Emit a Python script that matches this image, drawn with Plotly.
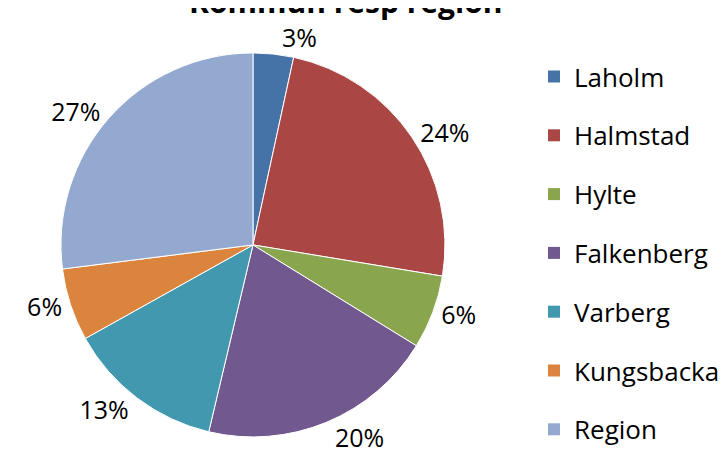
import plotly.graph_objects as go

categories = ["Laholm", "Halmstad", "Hylte", "Falkenberg", "Varberg", "Kungsbacka", "Region"]
values = [3.4, 24.2, 6.2, 19.9, 13.2, 6.1, 27.0]
colors = ["#4572A7", "#AA4643", "#89A54E", "#71588F", "#4198AF", "#DB843D", "#93A9CF"]
title_text = "Kommun resp region"

FONT = "'Open Sans', 'Noto Sans', sans-serif"

fig = go.Figure()
fig.add_trace(go.Pie(
    labels=categories,
    values=values,
    sort=False,
    direction="clockwise",
    rotation=0,
    marker=dict(colors=colors, line=dict(color="white", width=1)),
    textinfo="percent",
    texttemplate="%{percent:.0%}",
    textposition="outside",
    outsidetextfont=dict(family=FONT, size=25, color="black"),
    showlegend=False,
    hoverinfo="label+percent",
    domain=dict(x=[0.0565, 0.6165], y=[0.097, 0.9054]),
))

for name, col in zip(categories, colors):
    fig.add_trace(go.Scatter(
        x=[None], y=[None], mode="markers", name=name,
        legendgroup=name,
        marker=dict(symbol="square", size=18, color=col),
    ))

fig.add_annotation(
    text="<b>" + title_text + "</b>", xref="paper", yref="paper",
    x=0.463, y=1.0, xanchor="center", yanchor="middle", yshift=7,
    showarrow=False, font=dict(family=FONT, size=30, color="black"),
)

fig.update_layout(
    width=728, height=475,
    margin=dict(l=0, r=0, t=0, b=0, autoexpand=False),
    paper_bgcolor="white", plot_bgcolor="white",
    xaxis=dict(visible=False), yaxis=dict(visible=False),
    legend=dict(x=0.7225, y=0.484, xanchor="left", yanchor="middle",
                font=dict(family=FONT, size=26, color="black"),
                tracegroupgap=22, itemsizing="constant",
                bgcolor="rgba(0,0,0,0)"),
)

fig.write_html("out.html")
